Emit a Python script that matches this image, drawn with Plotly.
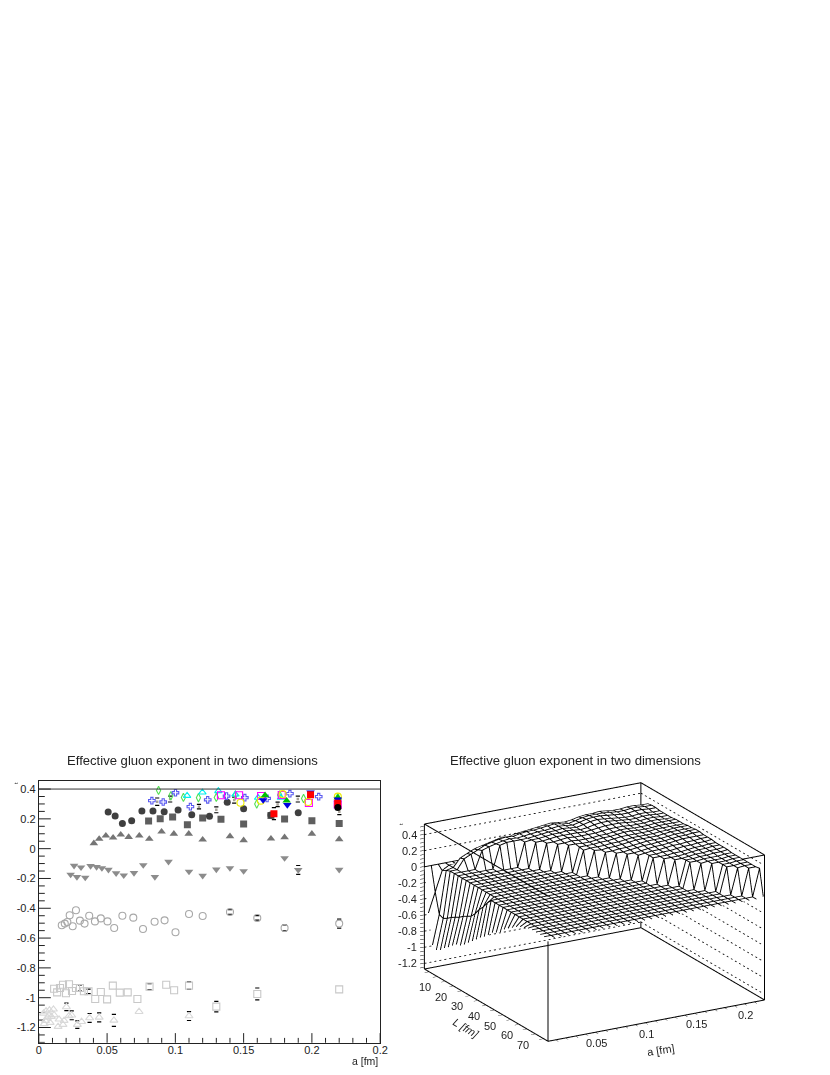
import plotly.graph_objects as go

## Left panel: exponent against lattice spacing, one pair of lists per lattice volume

circle_dark_a = [0.0508, 0.0559, 0.0612, 0.068, 0.0755, 0.0836, 0.0918, 0.102, 0.112, 0.125, 0.138, 0.15, 0.17, 0.19]
circle_dark_z = [0.246, 0.219, 0.168, 0.188, 0.253, 0.253, 0.248, 0.259, 0.228, 0.217, 0.311, 0.268, 0.226, 0.241]
square_dark_a = [0.0804, 0.0889, 0.098, 0.1088, 0.12, 0.1334, 0.15, 0.17, 0.18, 0.2, 0.22]
square_dark_z = [0.185, 0.201, 0.212, 0.161, 0.206, 0.197, 0.165, 0.223, 0.199, 0.188, 0.168]
up_gray_a = [0.0403, 0.0442, 0.0491, 0.0544, 0.06, 0.0658, 0.0736, 0.0809, 0.0899, 0.0989, 0.1098, 0.12, 0.14, 0.15, 0.17, 0.18, 0.2, 0.22]
up_gray_z = [0.036, 0.065, 0.087, 0.074, 0.094, 0.078, 0.087, 0.065, 0.114, 0.1, 0.1, 0.06, 0.083, 0.056, 0.067, 0.076, 0.1, 0.063]
down_gray_a = [0.0233, 0.0279, 0.034, 0.0258, 0.0309, 0.0379, 0.0423, 0.0462, 0.051, 0.0566, 0.0622, 0.0697, 0.0765, 0.085, 0.095, 0.11, 0.12, 0.13, 0.14, 0.15, 0.18, 0.19, 0.22]
down_gray_z = [-0.174, -0.19, -0.194, -0.114, -0.125, -0.116, -0.123, -0.13, -0.141, -0.165, -0.179, -0.163, -0.11, -0.19, -0.087, -0.154, -0.181, -0.139, -0.13, -0.15, -0.063, -0.143, -0.141]
circle_open_a = [0.0168, 0.019, 0.0209, 0.0226, 0.0248, 0.0272, 0.0301, 0.0335, 0.0369, 0.0411, 0.0454, 0.0503, 0.0552, 0.0612, 0.0692, 0.0763, 0.0848, 0.0921, 0.1001, 0.11, 0.12, 0.14, 0.16, 0.18, 0.22]
circle_open_z = [-0.514, -0.503, -0.492, -0.447, -0.521, -0.413, -0.483, -0.503, -0.45, -0.488, -0.468, -0.488, -0.532, -0.45, -0.463, -0.539, -0.49, -0.481, -0.561, -0.438, -0.452, -0.425, -0.465, -0.532, -0.503]
square_open_a = [0.0112, 0.0134, 0.0155, 0.0177, 0.0199, 0.0221, 0.0243, 0.0272, 0.0301, 0.033, 0.0364, 0.0413, 0.0454, 0.05, 0.0542, 0.0593, 0.0651, 0.0722, 0.0811, 0.0933, 0.0991, 0.11, 0.13, 0.16, 0.22]
square_open_z = [-0.94, -0.964, -0.935, -0.913, -0.97, -0.91, -0.955, -0.935, -0.935, -0.957, -0.957, -1.009, -0.962, -1.011, -0.919, -0.966, -0.964, -1.009, -0.926, -0.913, -0.95, -0.919, -1.06, -0.975, -0.944]
up_open_a = [0.11, 0.0734, 0.055, 0.0442, 0.0372, 0.0313, 0.0282, 0.0241, 0.0221, 0.0202, 0.0177, 0.0141, 0.0185, 0.0148, 0.0107, 0.0083, 0.0039, 0.0034, 0.0053, 0.0075, 0.0092, 0.0063, 0.0049, 0.0112, 0.0078]
up_open_z = [-1.123, -1.094, -1.152, -1.132, -1.136, -1.161, -1.181, -1.118, -1.122, -1.062, -1.181, -1.194, -1.154, -1.145, -1.078, -1.167, -1.176, -1.105, -1.09, -1.116, -1.127, -1.132, -1.154, -1.116, -1.083]

diamond_green_a = [0.0877, 0.0967, 0.1059, 0.1169, 0.13, 0.144, 0.1596, 0.1764, 0.1939, 0.219]
diamond_green_z = [0.391, 0.355, 0.344, 0.342, 0.344, 0.36, 0.3, 0.36, 0.337, 0.344]
cross_blue_a = [0.0828, 0.0911, 0.1001, 0.111, 0.1237, 0.1375, 0.1509, 0.1672, 0.1839, 0.205]
cross_blue_z = [0.322, 0.313, 0.375, 0.282, 0.328, 0.353, 0.342, 0.337, 0.369, 0.349]
up_cyan_a = [0.1086, 0.1198, 0.1315, 0.144, 0.1606, 0.1773, 0.219]
up_cyan_z = [0.355, 0.378, 0.387, 0.364, 0.342, 0.342, 0.325]
small_gray_a = [0.0867, 0.0962, 0.1173, 0.13, 0.1431, 0.1749, 0.1897, 0.2201]
small_gray_z = [0.315, 0.333, 0.282, 0.261, 0.326, 0.297, 0.333, 0.248]
square_magenta_a = [0.1334, 0.1467, 0.1628, 0.1779, 0.1978, 0.2189]
square_magenta_z = [0.358, 0.358, 0.353, 0.36, 0.306, 0.297]
circle_yellow_a = [0.1477, 0.1626, 0.1786, 0.1973, 0.219]
circle_yellow_z = [0.308, 0.322, 0.366, 0.313, 0.349]
up_green_a = [0.1657, 0.1815, 0.219]
up_green_z = [0.358, 0.322, 0.342]
down_blue_a = [0.1643, 0.182, 0.199, 0.219]
down_blue_z = [0.326, 0.293, 0.378, 0.33]
square_red_a = [0.1722, 0.199, 0.2189]
square_red_z = [0.235, 0.362, 0.304]
circle_black_a = [0.219]
circle_black_z = [0.277]

err_a = [0.1722, 0.11, 0.0202, 0.13, 0.16, 0.22, 0.18, 0.16, 0.14, 0.19, 0.11, 0.0811, 0.0301, 0.0364, 0.0241, 0.0282, 0.0372, 0.0442, 0.055, 0.0867, 0.0962, 0.1173, 0.13, 0.1431, 0.1749, 0.1897, 0.2201]
err_z = [0.235, -1.123, -1.062, -1.06, -0.975, -0.503, -0.532, -0.465, -0.425, -0.143, -0.919, -0.926, -0.935, -0.957, -1.118, -1.181, -1.136, -1.132, -1.152, 0.315, 0.333, 0.282, 0.261, 0.326, 0.297, 0.333, 0.248]
err_e = [0.04, 0.03, 0.025, 0.035, 0.04, 0.03, 0.02, 0.015, 0.015, 0.03, 0.025, 0.02, 0.02, 0.015, 0.03, 0.025, 0.03, 0.03, 0.04, 0.025, 0.02, 0.015, 0.02, 0.02, 0.015, 0.02, 0.02]

a_grid = [0.002, 0.009, 0.016, 0.023, 0.030, 0.037, 0.044, 0.051, 0.058, 0.065, 0.072, 0.079, 0.086, 0.093, 0.100, 0.107,
          0.114, 0.121, 0.128, 0.135, 0.142, 0.149, 0.156, 0.163, 0.170, 0.177, 0.184, 0.191, 0.198, 0.205, 0.212, 0.219]
L_grid = [2.4, 4.8, 7.3, 9.7, 12.2, 14.6, 17.0, 19.5, 21.9, 24.4, 26.8, 29.2, 31.7, 34.1, 36.6, 39.0,
          41.4, 43.9, 46.3, 48.8, 51.2, 53.6, 56.1, 58.5, 61.0, 63.4, 65.8, 68.3, 70.7, 73.2, 75.6, 78.0]
z_rows = [
    [0] * 32,
    [-.55, -.3, -.05] + [0] * 29,
    [-.92, -.55, -.02, 0, .1, .14, .18, .2, .22, .24, .26, .25, .27, .28, .29, .3, .31, .32, .31, .3, .31, .33, .34, .34, .35, .34, .33, .33, .34, .34, .33, .33],
    [-.95, -.57, 0, 0, .12, .16, .2, .24, .26, .28, .29, .28, .3, .31, .31, .32, .33, .34, .32, .31, .33, .35, .36, .36, .36, .35, .34, .34, .35, .35, .34, .34],
    [-.92, -.54, 0, 0, 0, 0, .22, .25, .27, .29, .3, .29, .3, .31, .32, .32, .33, .34, .33, .32, .34, .36, .37, .37, .36, .35, .34, .34, .35, .35, .34, .34],
    [-.87, -.5] + [0] * 6 + [.28, .3, .3, .3, .3, .31, .32, .33, .33, .34, .33, .32, .34, .36, .37, .36, .35, .34, .33, .33, .34, .34, .33, .33],
    [-.83, -.47] + [0] * 9 + [.3, .31, .31, .32, .33, .33, .34, .33, .32, .33, .35, .36, .36, .35, .34, .33, .33, .34, .34, .33, .33],
    [-.78, -.44] + [0] * 10 + [.31, .31, .32, .33, .33, .33, .33, .32, .33, .34, .35, .35, .35, .34, .33, .33, .34, .34, .33, .33],
    [-.74, -.4] + [0] * 11 + [.31, .31, .32, .33, .32, .32, .32, .32, .33, .34, .34, .34, .33, .33, .33, .34, .34, .33, .33],
    [-.72, -.37] + [0] * 12 + [.31, .31, .32, .31, .31, .31, .32, .32, .33, .34, .34, .33, .33, .33, .34, .34, .34, .34],
    [-.68, -.34] + [0] * 13 + [.31, .31, .3, .3, .31, .32, .32, .33, .34, .34, .33, .33, .33, .34, .34, .34, .34],
    [-.63, -.28] + [0] * 14 + [.3, .3, .3, .31, .31, .32, .33, .33, .33, .33, .33, .34, .34, .34, .34, .34],
    [-.58, -.2] + [0] * 14 + [.29, .3, .3, .3, .31, .31, .32, .33, .33, .33, .33, .34, .34, .35, .35, .35],
    [-.53, -.14] + [0] * 15 + [.3, .29, .3, .3, .31, .32, .33, .33, .33, .33, .34, .35, .35, .35, .35],
    [-.48, -.06] + [0] * 16 + [.29, .29, .3, .3, .31, .32, .33, .33, .33, .34, .35, .35, .36, .36],
    [-.44, 0] + [0] * 17 + [.29, .29, .3, .31, .32, .32, .33, .33, .34, .35, .35, .36, .36],
    [-.39, 0] + [0] * 18 + [.29, .29, .3, .31, .32, .32, .33, .34, .35, .35, .35, .35],
    [-.33, 0] + [0] * 19 + [.29, .3, .31, .31, .32, .33, .33, .34, .34, .35, .35],
    [-.3, 0] + [0] * 20 + [.3, .3, .31, .31, .32, .33, .33, .34, .34, .35],
    [-.26, 0] + [0] * 20 + [.3, .3, .3, .31, .31, .32, .33, .33, .34, .34],
    [-.2, 0] + [0] * 21 + [.3, .3, .3, .31, .32, .33, .33, .34, .34],
    [-.16, 0] + [0] * 22 + [.3, .3, .31, .32, .32, .33, .33, .34],
    [-.12, 0] + [0] * 23 + [.31, .31, .32, .32, .33, .33, .34],
    [-.08, 0] + [0] * 23 + [.31, .31, .32, .32, .32, .33, .33],
    [-.05, 0] + [0] * 24 + [.31, .32, .32, .32, .33, .33],
    [-.03, 0] + [0] * 25 + [.32, .32, .32, .33, .33],
    [-.01, 0] + [0] * 26 + [.32, .32, .33, .33],
    [0, 0] + [0] * 26 + [.32, .32, .33, .33],
    [0, 0] + [0] * 27 + [.32, .33, .33],
    [0, 0] + [0] * 28 + [.33, .33],
    [0, 0] + [0] * 29 + [.34],
    [0] * 32,
]

a_lim = [0.002, 0.22]
L_lim = [2.4, 78.0]
z_lim = [-1.27, 0.53]
z_ticks = [-1.2, -1, -0.8, -0.6, -0.4, -0.2, 0, 0.2, 0.4]
z_labels = ["-1.2", "-1", "-0.8", "-0.6", "-0.4", "-0.2", "0", "0.2", "0.4"]
z_minor = [-1.25, -1.2, -1.15, -1.1, -1.05, -1, -0.95, -0.9, -0.85, -0.8, -0.75, -0.7, -0.65, -0.6, -0.55, -0.5, -0.45, -0.4,
           -0.35, -0.3, -0.25, -0.2, -0.15, -0.1, -0.05, 0, 0.05, 0.1, 0.15, 0.2, 0.25, 0.3, 0.35, 0.4, 0.45, 0.5]
a_ticks = [0.01, 0.02, 0.03, 0.04, 0.05, 0.06, 0.07, 0.08, 0.09, 0.1, 0.11, 0.12, 0.13, 0.14, 0.15, 0.16, 0.17, 0.18, 0.19, 0.2, 0.21]
a_major = [0.05, 0.1, 0.15, 0.2]
a_major_labels = ["0.05", "0.1", "0.15", "0.2"]
L_ticks = [10, 20, 30, 40, 50, 60, 70]
L_minor = [5, 10, 15, 20, 25, 30, 35, 40, 45, 50, 55, 60, 65, 70, 75]

FONT = "Liberation Sans, Arial, sans-serif"
INK = "#222222"

fig = go.Figure()


# left frame ticks as line markers centred half their length inside the frame
def tick_marks(x, y, symbol, size):
    fig.add_trace(go.Scatter(x=x, y=y, mode="markers", showlegend=False, hoverinfo="skip",
                             marker=dict(symbol=symbol, size=size, line=dict(color=INK, width=1))))


x_major = [i * 0.05 for i in range(0, 6)]
x_minor = [i * 0.01 for i in range(0, 26) if i % 5 != 0]
y_major = [i * 0.2 for i in range(-6, 3)]
y_minor = [i * 0.05 for i in range(-26, 9) if i % 4 != 0]
tick_marks(x_major, [-1.302 + 0.0268] * len(x_major), "line-ns", 8)
tick_marks(x_minor, [-1.302 + 0.0134] * len(x_minor), "line-ns", 4)
tick_marks([0.00365] * len(y_major), y_major, "line-ew", 10)
tick_marks([0.0018] * len(y_minor), y_minor, "line-ew", 5)

# error bar ends only, the bar itself is hidden under the marker in the original
fig.add_trace(go.Scatter(x=err_a + err_a,
                         y=[z + e for z, e in zip(err_z, err_e)] + [z - e for z, e in zip(err_z, err_e)],
                         mode="markers", showlegend=False,
                         marker=dict(symbol="line-ew", size=3, line=dict(color="black", width=1.2))))


def points(a, z, symbol, color, size=7, width=1.1):
    fig.add_trace(go.Scatter(x=a, y=z, mode="markers", showlegend=False,
                             marker=dict(symbol=symbol, color=color, size=size, line=dict(color=color, width=width))))


points(up_open_a, up_open_z, "triangle-up-open", "#d9d9d9")
points(square_open_a, square_open_z, "square-open", "#c8c8c8")
points(circle_open_a, circle_open_z, "circle-open", "#a8a8a8")
points(down_gray_a, down_gray_z, "triangle-down", "#8c8c8c", 7.5, 0)
points(up_gray_a, up_gray_z, "triangle-up", "#757575", 7.5, 0)
points(square_dark_a, square_dark_z, "square", "#5e5e5e", 7, 0)
points(circle_dark_a, circle_dark_z, "circle", "#3f3f3f", 7, 0)
points(small_gray_a, small_gray_z, "square", "#a8a298", 2.5, 0)
points(diamond_green_a, diamond_green_z, "diamond-tall-open", "#55e055", 6)
points(cross_blue_a, cross_blue_z, "cross-open", "#5a5af0", 5.5)
points(up_cyan_a, up_cyan_z, "triangle-up-open", "#00eeee", 6.5)
points(square_magenta_a, square_magenta_z, "square-open", "#ff00ff", 7)
points(circle_yellow_a, circle_yellow_z, "circle-open", "#eeee00", 7)
points(up_green_a, up_green_z, "triangle-up", "#00c000", 7.5, 0)
points(down_blue_a, down_blue_z, "triangle-down", "#0000e0", 7.5, 0)
points(square_red_a, square_red_z, "square", "#ff0000", 7, 0)
points(circle_black_a, circle_black_z, "circle", "#000000", 7, 0)

fig.add_shape(type="line", xref="x", yref="y", x0=0, x1=0.25, y0=0.4, y1=0.4, line=dict(color="#333333", width=1))


def px_x(px):
    # paper runs from 2 to 825 px in this page
    return (px - 2) / 823


fig.update_xaxes(domain=[px_x(38), px_x(381)], range=[0, 0.25], showgrid=False, zeroline=False,
                 showline=True, mirror=True, linecolor=INK, linewidth=1,
                 ticks="", ticklabelstandoff=-3,
                 tickvals=[0, 0.05, 0.1, 0.15, 0.2, 0.25], ticktext=["0", "0.05", "0.1", "0.15", "0.2", "0.2"],
                 tickfont=dict(size=11, color=INK))
fig.update_yaxes(domain=[(1075 - 1042.7) / 1075, (1075 - 781) / 1075], range=[-1.302, 0.454], showgrid=False, zeroline=False,
                 showline=True, mirror=True, linecolor=INK, linewidth=1,
                 ticks="",
                 tickvals=z_ticks, ticktext=z_labels,
                 tickfont=dict(size=11, color=INK))

## Right panel

fig.add_trace(go.Surface(
    x=a_grid, y=L_grid, z=z_rows, scene="scene", showscale=False,
    colorscale=[[0, "white"], [1, "white"]], cmin=-1, cmax=1,
    lighting=dict(ambient=1, diffuse=0, specular=0, fresnel=0, roughness=1),
    hoverinfo="skip",
))

# mesh lines sit a hair towards the camera so the white surface does not eat them
wire_x, wire_y, wire_z = [], [], []
for j, row in enumerate(z_rows):
    wire_x += [a - 0.0006 for a in a_grid] + [None]
    wire_y += [L_grid[j] + 0.3] * len(a_grid) + [None]
    wire_z += [z + 0.004 for z in row] + [None]
for i, a in enumerate(a_grid):
    wire_x += [a - 0.0006] * len(L_grid) + [None]
    wire_y += [L + 0.3 for L in L_grid] + [None]
    wire_z += [row[i] + 0.004 for row in z_rows] + [None]
fig.add_trace(go.Scatter3d(x=wire_x, y=wire_y, z=wire_z, mode="lines", scene="scene", showlegend=False,
                           line=dict(color="black", width=1.9), hoverinfo="skip"))

# box edges of the lego frame, the two nearest edges stop where the mesh covers them
a0, a1 = a_lim
L0, L1 = L_lim
z0, z1 = z_lim
a_cut = 0.198
z_cut = -0.03
box_x = [a0, a1, a1, a0, a0, None, a0, a1, a1, a_cut, None, a0, a0, None, a0, a0, None, a1, a1, None, a1, a1, None, a0, a0]
box_y = [L0, L0, L1, L1, L0, None, L0, L0, L1, L1, None, L1, L0, None, L0, L0, None, L0, L0, None, L1, L1, None, L1, L1]
box_z = [z0, z0, z0, z0, z0, None, z1, z1, z1, z1, None, z1, z1, None, z0, z1, None, z0, z1, None, z0, z1, None, z0, z_cut]
fig.add_trace(go.Scatter3d(x=box_x, y=box_y, z=box_z, mode="lines", scene="scene", showlegend=False,
                           line=dict(color="black", width=2), hoverinfo="skip"))

# dotted levels on the two back walls, short pieces since gl dashes come out far too long
grid_x, grid_y, grid_z = [], [], []
for t in z_ticks:
    for k in range(44):
        grid_x += [a0 + k * 0.005, a0 + k * 0.005 + 0.002, None]
        grid_y += [L0, L0, None]
        grid_z += [t, t, None]
    for k in range(30):
        grid_x += [a1, a1, None]
        grid_y += [L0 + k * 2.5, L0 + k * 2.5 + 1.0, None]
        grid_z += [t, t, None]
fig.add_trace(go.Scatter3d(x=grid_x, y=grid_y, z=grid_z, mode="lines", scene="scene", showlegend=False,
                           line=dict(color="black", width=1.6), hoverinfo="skip"))

axis_3d = dict(showgrid=False, showbackground=False, zeroline=False, showspikes=False, showline=False,
               ticks="outside", ticklen=4, tickcolor="black", title=dict(text=""), showticklabels=False)


def label(text, px, py, size=11, angle=0, xanchor="center"):
    return dict(text=text, xref="paper", yref="paper", x=px_x(px), y=(1075 - py) / 1075, xanchor=xanchor, yanchor="middle",
                showarrow=False, textangle=angle, font=dict(size=size, color=INK))


# tick labels of the box, anchored on the axes and nudged off them
tick_notes = []
for t, s in zip(z_ticks, z_labels):
    tick_notes.append(dict(x=a0, y=L0, z=t, text=s, showarrow=False, xanchor="right", yanchor="middle", xshift=-5,
                           font=dict(size=11, color=INK)))
for v, s in zip(a_major, a_major_labels):
    tick_notes.append(dict(x=v, y=L1, z=z0, text=s, showarrow=False, xanchor="center", yanchor="middle", xshift=1.5, yshift=-11,
                           font=dict(size=11, color=INK)))
for v in L_ticks:
    tick_notes.append(dict(x=a0, y=v, z=z0, text=str(v), showarrow=False, xanchor="center", yanchor="middle", xshift=-11.7, yshift=-11,
                           font=dict(size=11, color=INK)))

fig.update_layout(
    width=830, height=1075, autosize=False,
    margin=dict(l=0, r=0, t=0, b=0),
    paper_bgcolor="white", plot_bgcolor="white",
    font=dict(family=FONT, size=11, color=INK),
    showlegend=False,
    scene=dict(
        domain=dict(x=[px_x(387.5), px_x(804.5)], y=[(1075 - 1062) / 1075, (1075 - 762) / 1075]),
        # ranges a touch wider than the box, lines right on the bound get clipped away in gl
        xaxis=dict(axis_3d, range=[a0 - 0.0005, a1 + 0.0005], tickvals=a_ticks),
        yaxis=dict(axis_3d, range=[L1 + 0.2, L0 - 0.2], tickvals=L_minor),
        zaxis=dict(axis_3d, range=[z0 - 0.004, z1 + 0.004], tickvals=z_minor),
        aspectmode="manual",
        aspectratio=dict(x=1.67, y=1.67, z=1.03),
        camera=dict(projection=dict(type="orthographic"), up=dict(x=0, y=0, z=1),
                    center=dict(x=0, y=0, z=0), eye=dict(x=-1.40, y=-2.45, z=1.0)),
        annotations=tick_notes,
    ),
    annotations=[
        label("Effective gluon exponent in two dimensions", 192, 760, 13.1),
        label("Effective gluon exponent in two dimensions", 577, 760, 13.1),
        label("a [fm]", 381, 1060.5, 10.5, xanchor="right"),
        label("t", 15, 783, 6, -90),
        label("t", 402, 824, 6, -90),
        label("<i>L [fm]</i>", 467, 1028, 11, 31),
        label("a [fm]", 663, 1050, 11, -9),
    ],
)

fig.write_html("out.html", config=dict(displayModeBar=False), post_script="document.body.style.margin='0'")
